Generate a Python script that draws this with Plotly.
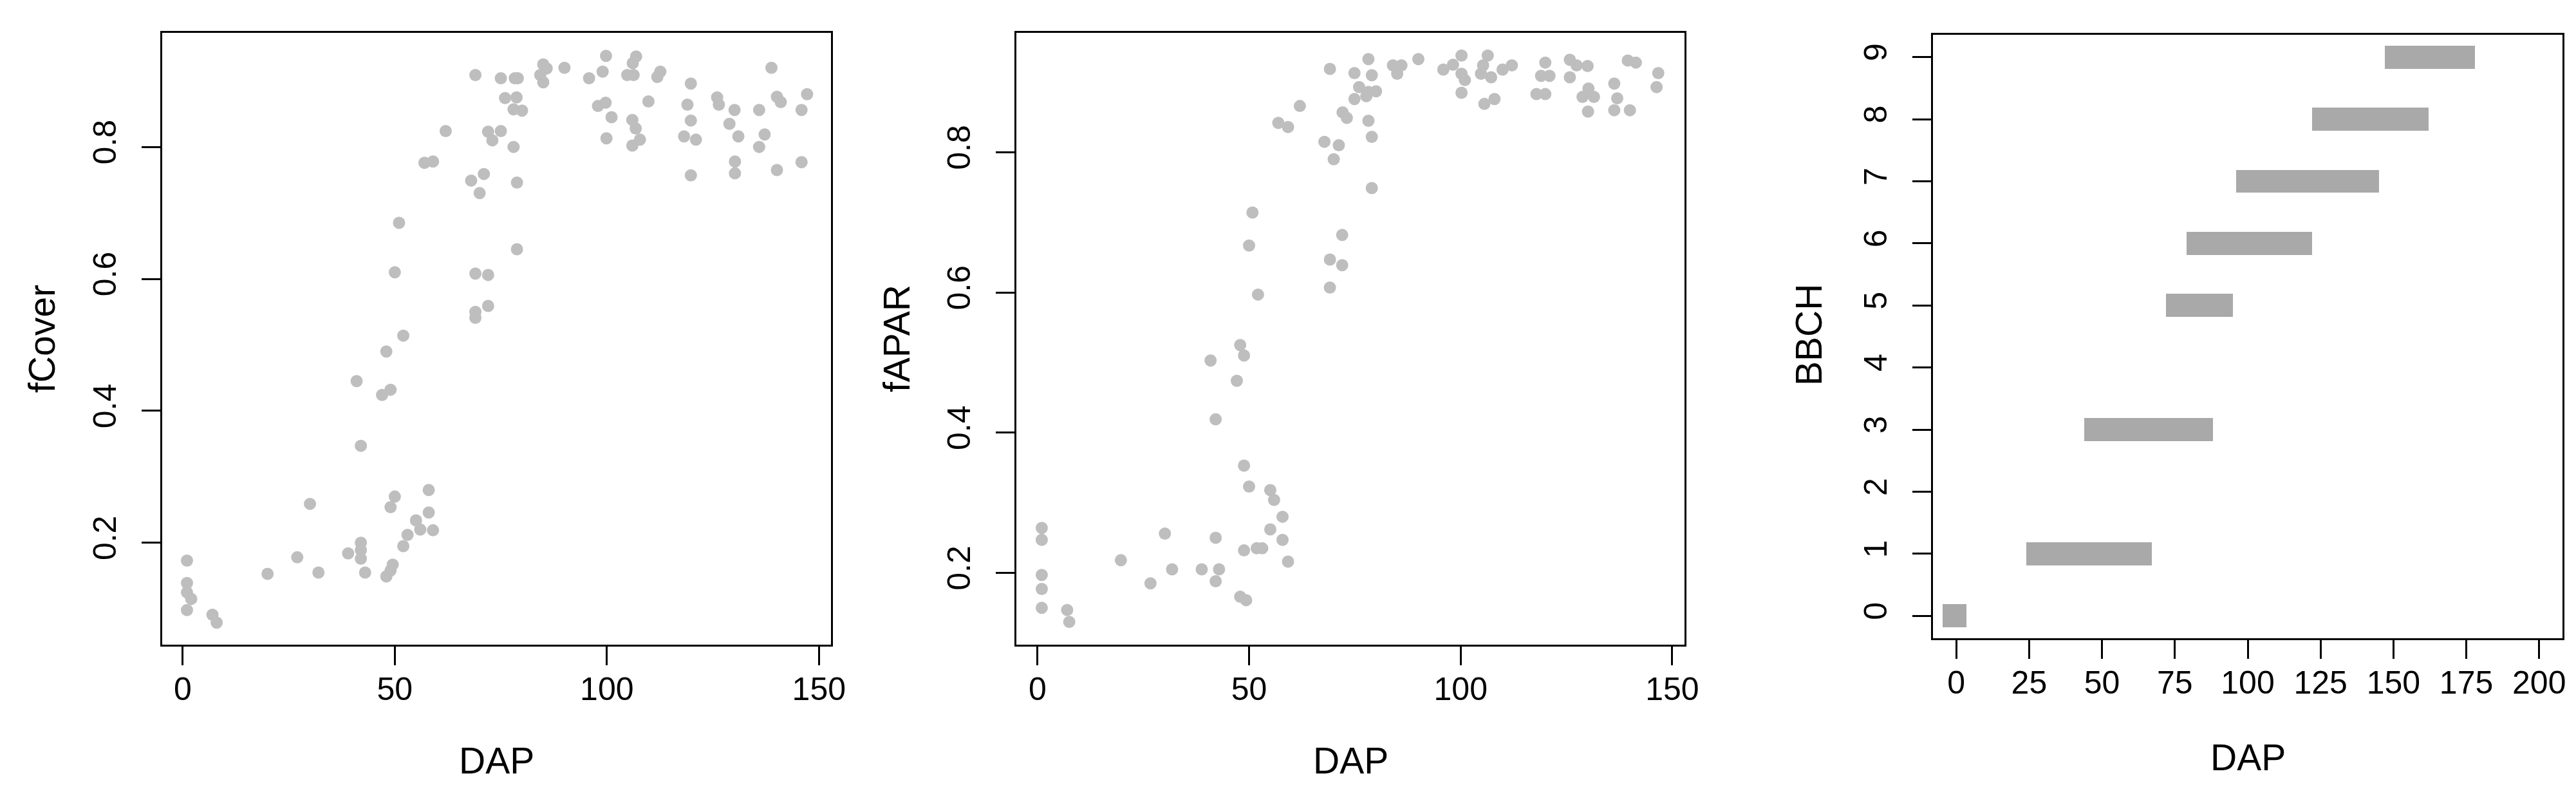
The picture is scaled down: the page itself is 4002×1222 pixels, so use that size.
import plotly.graph_objects as go

# ---- data: fCover vs DAP ----
fcover_dap = [1, 1, 1, 1, 2, 7, 8, 20, 27, 30, 32, 39, 42, 42, 42, 41, 42, 43,
              47, 48, 49, 49, 50, 50, 48, 49, 49.5, 51, 52, 52, 53, 55, 56, 58, 58, 59,
              57, 59, 62, 69, 68, 69, 69, 69, 70, 71, 72, 72, 72, 73, 75, 75, 76,
              78.3, 79, 78.7, 78, 80, 78, 78.8, 78.8, 85, 85.8, 84.3, 85, 90, 95.8,
              97.9, 99, 99.8, 99.7, 99.9, 101.1, 106.9, 106.1, 104.8, 106.3, 106, 106.8,
              107.8, 106, 109.8, 112.6, 111.9, 119.8, 119, 119.8, 118.2, 121, 119.8,
              126, 126.4, 128.9, 130.1, 131, 130.2, 130.2, 135.9, 137.2, 135.9, 138.8,
              140.1, 141, 140.1, 145.9, 147.2, 145.9]
fcover_val = [0.173, 0.139, 0.125, 0.098, 0.115, 0.091, 0.079, 0.153, 0.178, 0.259, 0.155,
              0.184, 0.200, 0.189, 0.176, 0.445, 0.347, 0.155,
              0.424, 0.490, 0.432, 0.254, 0.270, 0.610, 0.149, 0.158, 0.167, 0.685, 0.514,
              0.195, 0.212, 0.234, 0.220, 0.246, 0.280, 0.219,
              0.776, 0.778, 0.824, 0.909, 0.749, 0.608, 0.550, 0.541, 0.730, 0.759, 0.606,
              0.559, 0.823, 0.810, 0.824, 0.904, 0.874,
              0.904, 0.904, 0.875, 0.857, 0.855, 0.800, 0.746, 0.645, 0.925, 0.919, 0.909,
              0.898, 0.920, 0.904,
              0.862, 0.914, 0.938, 0.867, 0.813, 0.845, 0.937, 0.927, 0.909, 0.909, 0.841,
              0.828, 0.811, 0.802, 0.869, 0.914, 0.906, 0.896, 0.864, 0.840, 0.816, 0.811,
              0.757, 0.875, 0.864, 0.835, 0.856, 0.816, 0.778, 0.760, 0.856, 0.819, 0.800,
              0.920, 0.876, 0.868, 0.765, 0.856, 0.880, 0.777]

# ---- data: fAPAR vs DAP ----
fapar_dap = [1, 1, 1, 1, 1, 7, 7.5, 19.7, 26.7, 30.1, 31.8, 38.8, 40.9, 42.1, 42.1, 42.9,
             42.1, 47.9, 48.8, 47.1, 48.8, 50, 48.8, 47.9, 49.3, 50.8, 50, 52.1, 51.8, 53.1,
             55, 55.9, 55, 57.9, 57.9, 59.2, 56.9, 59.2, 62, 67.8, 71.2, 70, 69.1, 72,
             69.1, 72, 69.1, 74.9, 74.9, 72.1, 73.1, 76, 78.2, 80, 77.7, 78.2, 79, 78.2,
             79, 79, 84, 86, 85, 90, 95.9, 98.2, 100.2, 100.2, 101, 100.2, 104.8, 105.3,
             106.4, 107.2, 105.6, 108, 109.9, 112.1, 117.9, 120, 120, 119, 121, 125.8,
             127.4, 125.8, 130, 130.2, 131.5, 128.8, 130.1, 136.3, 137, 136.3, 140, 139.5,
             141.4, 146.7, 146.3]
fapar_val = [0.264, 0.247, 0.197, 0.177, 0.150, 0.147, 0.130, 0.218, 0.185, 0.256, 0.205,
             0.205, 0.503, 0.419, 0.250, 0.205,
             0.188, 0.525, 0.510, 0.474, 0.353, 0.323, 0.232, 0.166, 0.161, 0.714, 0.667,
             0.597, 0.235, 0.235,
             0.318, 0.304, 0.262, 0.280, 0.247, 0.216, 0.842, 0.836, 0.866, 0.815, 0.810,
             0.790, 0.919, 0.682,
             0.647, 0.639, 0.607, 0.913, 0.876, 0.857, 0.849, 0.893, 0.886, 0.887, 0.880,
             0.933, 0.910, 0.845,
             0.822, 0.749, 0.924, 0.924, 0.912, 0.933, 0.918, 0.925, 0.938, 0.912, 0.903,
             0.885, 0.912, 0.924,
             0.938, 0.907, 0.869, 0.876, 0.918, 0.924, 0.883, 0.883, 0.928, 0.909, 0.909,
             0.932,
             0.924, 0.907, 0.923, 0.891, 0.879, 0.879, 0.858, 0.898, 0.877, 0.860, 0.860,
             0.931,
             0.928, 0.913, 0.893]

# ---- data: BBCH stages vs DAP ----
bbch_stage = [0, 1, 3, 5, 6, 7, 8, 9]
bbch_start = [-4.6, 24, 44, 72, 79, 96, 122, 147]
bbch_end = [3.4, 67, 88, 95, 122, 145, 162, 178]

x_ticks_12 = [0, 50, 100, 150]
y_ticks_12 = [0.2, 0.4, 0.6, 0.8]
x_ticks_3 = [0, 25, 50, 75, 100, 125, 150, 175, 200]
y_ticks_3 = [0, 1, 2, 3, 4, 5, 6, 7, 8, 9]

W, H = 4002, 1222
FONT = "Arial, Liberation Sans, sans-serif"
PT_COL = "#BEBEBE"
BAR_COL = "#A9A9A9"

fig = go.Figure()
fig.add_trace(go.Scatter(x=fcover_dap, y=fcover_val, mode="markers",
                         marker=dict(size=19, color=PT_COL, line=dict(width=0)),
                         xaxis="x", yaxis="y", showlegend=False))
fig.add_trace(go.Scatter(x=fapar_dap, y=fapar_val, mode="markers",
                         marker=dict(size=19, color=PT_COL, line=dict(width=0)),
                         xaxis="x2", yaxis="y2", showlegend=False))
fig.add_trace(go.Bar(y=bbch_stage, base=bbch_start,
                     x=[e - s for s, e in zip(bbch_start, bbch_end)],
                     orientation="h", width=0.37, marker=dict(color=BAR_COL, line=dict(width=0)),
                     xaxis="x3", yaxis="y3", showlegend=False))


def ax(domain, rng, ticks, anchor, angle=0, standoff=0):
    return dict(domain=domain, range=rng, tickvals=ticks, ticktext=[str(t) for t in ticks],
                anchor=anchor, showline=True, mirror=True, linecolor="black", linewidth=2.5,
                ticks="outside", ticklen=29, tickwidth=2.5, tickcolor="black",
                showgrid=False, zeroline=False, tickangle=angle,
                tickfont=dict(family=FONT, size=50, color="black"),
                ticklabelstandoff=standoff, automargin=False, fixedrange=True)


XS, YS = -6, 20
yd12 = [1 - 993 / H, 1 - 43 / H]
yd3 = [1 - 983 / H, 1 - 46 / H]
fig.update_layout(
    width=W, height=H, margin=dict(l=0, r=0, t=0, b=0),
    paper_bgcolor="white", plot_bgcolor="white", bargap=0,
    xaxis=ax([244 / W, 1283 / W], [-4.84, 152.84], x_ticks_12, "y", 0, XS),
    yaxis=ax(yd12, [0.0456, 0.9729], y_ticks_12, "x", -90, YS),
    xaxis2=ax([1571 / W, 2609 / W], [-5.0, 152.9], x_ticks_12, "y2", 0, XS),
    yaxis2=ax(yd12, [0.0975, 0.9704], y_ticks_12, "x2", -90, YS),
    xaxis3=ax([2995 / W, 3973 / W], [-8, 208], x_ticks_3, "y3", 0, XS),
    yaxis3=ax(yd3, [-0.36, 9.36], y_ticks_3, "x3", -90, YS),
)

ann_font = dict(family=FONT, size=57, color="black")
titles = [
    ("fCover", 57, 518, -90), ("fAPAR", 1385, 518, -90), ("BBCH", 2802, 512, -90),
    ("DAP", 763.5, 1173, 0), ("DAP", 2090, 1173, 0), ("DAP", 3484, 1168, 0),
]
for txt, px, py, ang in titles:
    fig.add_annotation(text=txt, x=px / W, y=1 - py / H, xref="paper", yref="paper",
                       xanchor="center", yanchor="middle", showarrow=False,
                       textangle=ang, font=ann_font)

fig.write_html("out.html")
